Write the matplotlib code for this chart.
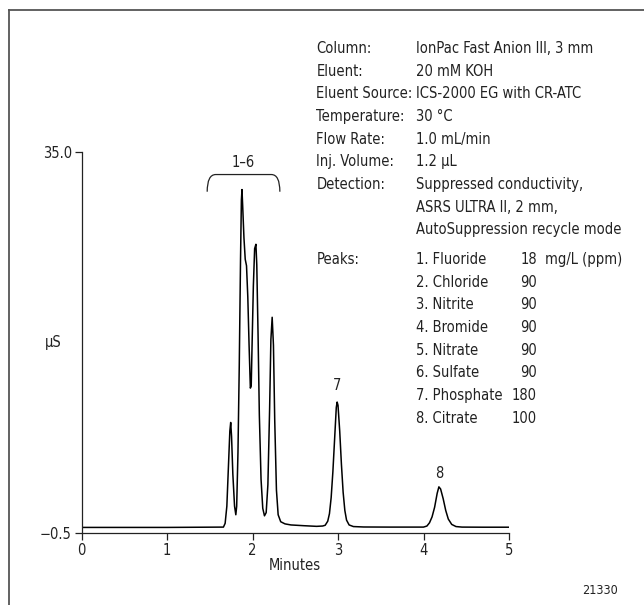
import numpy as np
import matplotlib
matplotlib.use("Agg")
import matplotlib.pyplot as plt
from matplotlib.path import Path
from matplotlib.patches import PathPatch
from matplotlib.lines import Line2D

plt.rcParams['font.family'] = ['DejaVu Sans']
plt.rcParams['font.stretch'] = 'condensed'

# chromatogram trace (minutes, uS)
time_min = [0.00, 1.00, 1.66, 1.68, 1.70, 1.72, 1.735, 1.745, 1.755, 1.77, 1.79, 1.805,
            1.815, 1.83, 1.845, 1.86, 1.87, 1.877, 1.885, 1.90, 1.915, 1.93, 1.945,
            1.96, 1.975, 1.985, 1.995, 2.01, 2.025, 2.04, 2.05, 2.065, 2.08, 2.10,
            2.12, 2.14, 2.16, 2.18, 2.20, 2.215, 2.23, 2.245, 2.26, 2.28, 2.30, 2.33,
            2.38, 2.45, 2.60, 2.75, 2.82, 2.85, 2.88, 2.90, 2.92, 2.94, 2.96, 2.98,
            2.99, 3.00, 3.02, 3.04, 3.06, 3.08, 3.10, 3.13, 3.18, 3.30, 3.60, 4.00,
            4.04, 4.07, 4.10, 4.13, 4.16, 4.18, 4.20, 4.23, 4.26, 4.29, 4.33, 4.38,
            4.45, 4.70, 5.00]
signal_us = [0.02, 0.02, 0.05, 0.4, 2.0, 6.0, 9.0, 9.8, 8.5, 5.0, 2.0, 1.2,
             2.0, 7.0, 15.0, 25.0, 30.5, 31.5, 30.0, 27.0, 25.0, 24.4, 21.5,
             17.0, 13.0, 13.2, 17.0, 22.5, 26.0, 26.4, 24.5, 18.0, 10.5, 4.5,
             1.8, 1.1, 1.4, 4.0, 11.0, 17.5, 19.6, 17.0, 10.0, 3.5, 1.2, 0.55,
             0.35, 0.25, 0.18, 0.12, 0.15, 0.22, 0.6, 1.3, 2.8, 5.2, 8.2, 11.2,
             11.7, 11.4, 9.0, 5.9, 3.3, 1.6, 0.7, 0.25, 0.1, 0.06, 0.05, 0.05,
             0.15, 0.45, 1.0, 1.9, 3.2, 3.8, 3.6, 2.7, 1.6, 0.8, 0.3, 0.1,
             0.05, 0.04, 0.04]

peak_labels = ['7', '8']
peak_label_x = [2.99, 4.18]
peak_label_y = [13.2, 5.0]

ytick_vals = [-0.5, 35.0]
xtick_vals = [0, 1, 2, 3, 4, 5]

cond_labels = ['Column:', 'Eluent:', 'Eluent Source:', 'Temperature:', 'Flow Rate:',
               'Inj. Volume:', 'Detection:', '', '']
cond_values = ['IonPac Fast Anion III, 3 mm', '20 mM KOH', 'ICS-2000 EG with CR-ATC',
               '30 \u00b0C', '1.0 mL/min', '1.2 \u03bcL', 'Suppressed conductivity,',
               'ASRS ULTRA II, 2 mm,', 'AutoSuppression recycle mode']
peak_names = ['1. Fluoride', '2. Chloride', '3. Nitrite', '4. Bromide', '5. Nitrate',
              '6. Sulfate', '7. Phosphate', '8. Citrate']
peak_conc = ['18', '90', '90', '90', '90', '90', '180', '100']

W, H = 644, 605
INK = '#222222'
fig = plt.figure(figsize=(W / 100, H / 100), dpi=100)
ax = fig.add_axes([81.5 / W, 1 - 533 / H, (509 - 81.5) / W, (533 - 152) / H])

ax.plot(time_min, signal_us, color='black', lw=1.1)
ax.set_xlim(0, 5)
ax.set_ylim(-0.5, 35.0)
for s in ['top', 'right']:
    ax.spines[s].set_visible(False)
for s in ['left', 'bottom']:
    ax.spines[s].set_linewidth(0.9)
    ax.spines[s].set_color(INK)
ax.set_xticks(xtick_vals)
ax.set_xticklabels([str(v) for v in xtick_vals])
ax.set_yticks(ytick_vals)
ax.set_yticklabels(['\u22120.5', '35.0'])
ax.tick_params(direction='out', length=5, width=0.9, color=INK,
               labelsize=10.5, pad=2, labelcolor=INK)
ax.set_xlabel('Minutes', fontsize=10.5, labelpad=0, color=INK)
ax.text(-0.067, 0.5, '\u03bcS', transform=ax.transAxes, fontsize=10.5,
        ha='center', va='center', color=INK)

for lab, x, y in zip(peak_labels, peak_label_x, peak_label_y):
    ax.text(x, y, lab, ha='center', va='center', fontsize=10.5, color=INK)

# bracket over peaks 1-6
verts = [(1.47, 31.3), (1.47, 32.9), (1.57, 32.9), (2.22, 32.9), (2.32, 32.9), (2.32, 31.3)]
codes = [Path.MOVETO, Path.CURVE3, Path.CURVE3, Path.LINETO, Path.CURVE3, Path.CURVE3]
ax.add_patch(PathPatch(Path(verts, codes), fill=False, lw=0.9, edgecolor=INK))
ax.text(1.895, 34.0, '1\u20136', ha='center', va='center', fontsize=10.5, color=INK)

# conditions block
fs = 10.5
x_lab, x_val, x_num, x_unit = 316.5 / W, 416.5 / W, 537 / W, 545 / W
y0, dy = 48.5, 22.65
for i, (l, v) in enumerate(zip(cond_labels, cond_values)):
    y = 1 - (y0 + i * dy) / H
    fig.text(x_lab, y, l, fontsize=fs, va='center', ha='left', color=INK)
    fig.text(x_val, y, v, fontsize=fs, va='center', ha='left', color=INK)
yp = 259.5
fig.text(x_lab, 1 - yp / H, 'Peaks:', fontsize=fs, va='center', ha='left', color=INK)
for i, (n, c) in enumerate(zip(peak_names, peak_conc)):
    y = 1 - (yp + i * dy) / H
    fig.text(x_val, y, n, fontsize=fs, va='center', ha='left', color=INK)
    fig.text(x_num, y, c, fontsize=fs, va='center', ha='right', color=INK)
fig.text(x_unit, 1 - yp / H, 'mg/L (ppm)', fontsize=fs, va='center', ha='left', color=INK)

fig.text(600 / W, 1 - 590 / H, '21330', fontsize=9, va='center', ha='center', color=INK)

# outer frame (top and left edges visible)
fig.add_artist(Line2D([8.5 / W, 8.5 / W], [0, 1 - 10 / H], transform=fig.transFigure,
                      color='#555555', lw=1.3))
fig.add_artist(Line2D([8.5 / W, 1], [1 - 10 / H, 1 - 10 / H], transform=fig.transFigure,
                      color='#555555', lw=1.3))

fig.savefig('out.png', dpi=100)
